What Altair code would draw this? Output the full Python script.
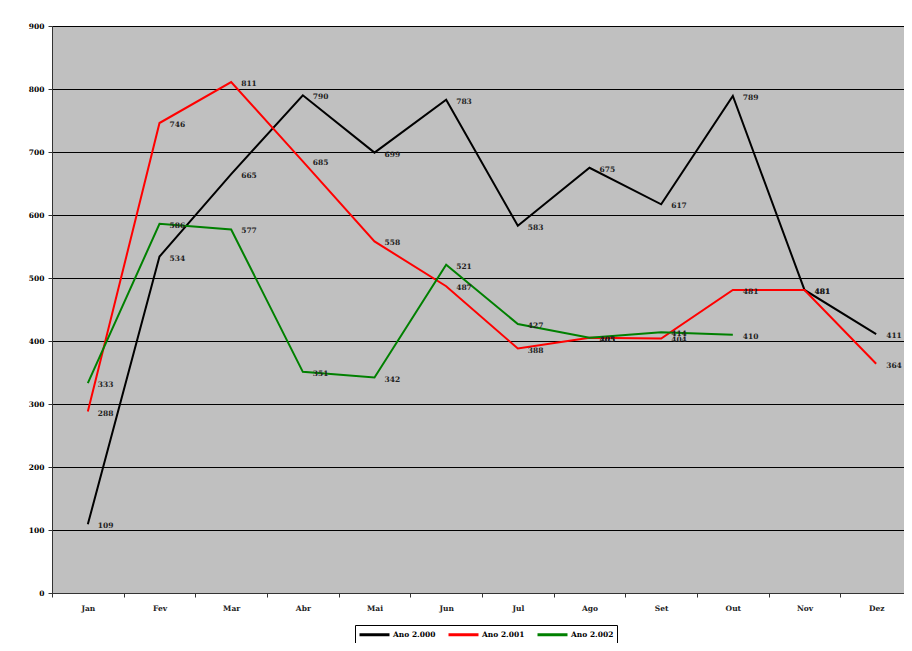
import altair as alt
import pandas as pd

months = ["Jan", "Fev", "Mar", "Abr", "Mai", "Jun", "Jul", "Ago", "Set", "Out", "Nov", "Dez"]
series_names = ["Ano 2.000", "Ano 2.001", "Ano 2.002"]
a2000 = [109, 534, 665, 790, 699, 783, 583, 675, 617, 789, 481, 411]
a2001 = [288, 746, 811, 685, 558, 487, 388, 405, 404, 481, 481, 364]
a2002 = [333, 586, 577, 351, 342, 521, 427, 405, 414, 410, None, None]
colors = ["#000000", "#FF0000", "#008000"]

rows = []
for name, vals in zip(series_names, [a2000, a2001, a2002]):
    for m, v in zip(months, vals):
        if v is not None:
            rows.append({"mes": m, "valor": v, "serie": name})
df = pd.DataFrame(rows)

FONT = "DejaVu Serif"

x = alt.X(
    "mes:N",
    sort=months,
    bandPosition=0.5,
    scale=alt.Scale(type="band", domain=months, paddingInner=0, paddingOuter=0),
    axis=alt.Axis(
        title=None, tickBand="extent", labelAngle=0, grid=False,
        tickSize=4, labelPadding=7, domainColor="#333333", tickColor="#333333",
        labelFont=FONT, labelFontWeight="bold", labelFontSize=7.5, labelColor="#222222",
    ),
)
y = alt.Y(
    "valor:Q",
    scale=alt.Scale(domain=[0, 900], nice=False),
    axis=alt.Axis(
        title=None, values=list(range(0, 901, 100)), grid=True, gridColor="#000000",
        gridOpacity=1, gridWidth=1, tickSize=4, labelPadding=4,
        domainColor="#333333", tickColor="#333333",
        labelFont=FONT, labelFontWeight="bold", labelFontSize=7.5, labelColor="#000000",
    ),
)
color = alt.Color(
    "serie:N",
    sort=series_names,
    scale=alt.Scale(domain=series_names, range=colors),
    legend=alt.Legend(
        title=None, orient="none", legendX=303, legendY=599, direction="horizontal",
        symbolType="M-1,0L5,0", symbolSize=100, symbolStrokeWidth=3,
        strokeColor="#000000", padding=3, columnPadding=6,
        labelFont=FONT, labelFontWeight="bold", labelFontSize=7.5, labelColor="#000000",
        fillColor="#FFFFFF", labelOffset=22,
    ),
)

base = alt.Chart(df)
lines = base.mark_line(strokeWidth=2).encode(x=x, y=y, color=color)
labels = base.mark_text(
    align="left", baseline="middle", dx=10, dy=2,
    font=FONT, fontWeight="bold", fontSize=7.5, color="#222222",
).encode(x=x, y=y, text=alt.Text("valor:Q"))

chart = (
    alt.layer(lines, labels)
    .properties(
        width=860, height=567,
        autosize=alt.AutoSizeParams(type="none"),
        padding={"left": 44, "top": 18, "right": -8, "bottom": 50},
        background="#FFFFFF",
    )
    .configure_view(fill="#C0C0C0", stroke=None)
)

chart.save("out.html", embed_options={"renderer": "svg", "actions": False})
